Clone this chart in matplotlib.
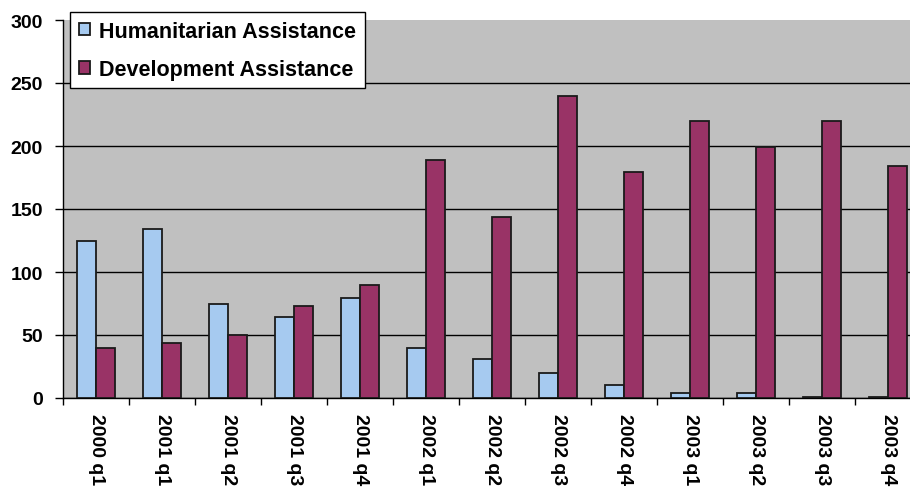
import matplotlib
matplotlib.use('Agg')
import matplotlib.pyplot as plt
import numpy as np

quarters = ['2000 q1', '2001 q1', '2001 q2', '2001 q3', '2001 q4',
            '2002 q1', '2002 q2', '2002 q3', '2002 q4',
            '2003 q1', '2003 q2', '2003 q3', '2003 q4']
humanitarian = [125, 134, 75, 64, 79, 40, 31, 20, 10, 4, 4, 1, 1]
development = [40, 44, 50, 73, 90, 189, 144, 240, 179, 220, 199, 220, 184]

plt.rcParams['font.family'] = ['Liberation Sans', 'DejaVu Sans']
plt.rcParams['font.weight'] = 'bold'

fig = plt.figure(figsize=(9.10, 4.89), dpi=100)
# plot area runs a little past the right edge of the image
ax = fig.add_axes([63 / 910, 90 / 489, 858 / 910, 378 / 489])
ax.set_facecolor('#C0C0C0')

x = np.arange(len(quarters))
w = 0.295
ax.bar(x - w / 2, humanitarian, w, color='#A6CAF0', edgecolor='#1a1a1a',
       linewidth=1.3, label='Humanitarian Assistance', zorder=3)
ax.bar(x + w / 2, development, w, color='#993366', edgecolor='#1a1a1a',
       linewidth=1.3, label='Development Assistance', zorder=3)

ax.set_xlim(-0.5, len(quarters) - 0.5)
ax.set_ylim(0, 300)
ax.set_yticks(range(0, 301, 50))
ax.yaxis.grid(True, color='black', linewidth=1.0, zorder=1)
ax.get_ygridlines()[-1].set_visible(False)
ax.set_axisbelow(True)

ax.set_xticks(x)
ax.set_xticklabels(quarters, rotation=-90, va='top', ha='center')
ax.set_xticks(np.arange(-0.5, len(quarters)), minor=True)
ax.tick_params(axis='x', which='major', length=0, pad=11, labelsize=14)
ax.tick_params(axis='x', which='minor', length=5, width=1, direction='out')
ax.tick_params(axis='y', length=6, width=1, direction='out', pad=8.5, labelsize=14)

for s in ['top', 'right']:
    ax.spines[s].set_visible(False)
for s in ['left', 'bottom']:
    ax.spines[s].set_color('black')
    ax.spines[s].set_linewidth(1.0)

leg = ax.legend(loc='upper left', bbox_to_anchor=(70 / 910, 1 - 13 / 489),
                bbox_transform=fig.transFigure, frameon=True, fancybox=False,
                framealpha=1, edgecolor='black', fontsize=15.5,
                handlelength=0.55, handleheight=0.55, handletextpad=0.4,
                labelspacing=0.8, borderpad=0.4, borderaxespad=0)
leg.get_frame().set_linewidth(1.0)
for t in leg.get_texts():
    t.set_fontweight('bold')

fig.savefig('out.png', dpi=100)
